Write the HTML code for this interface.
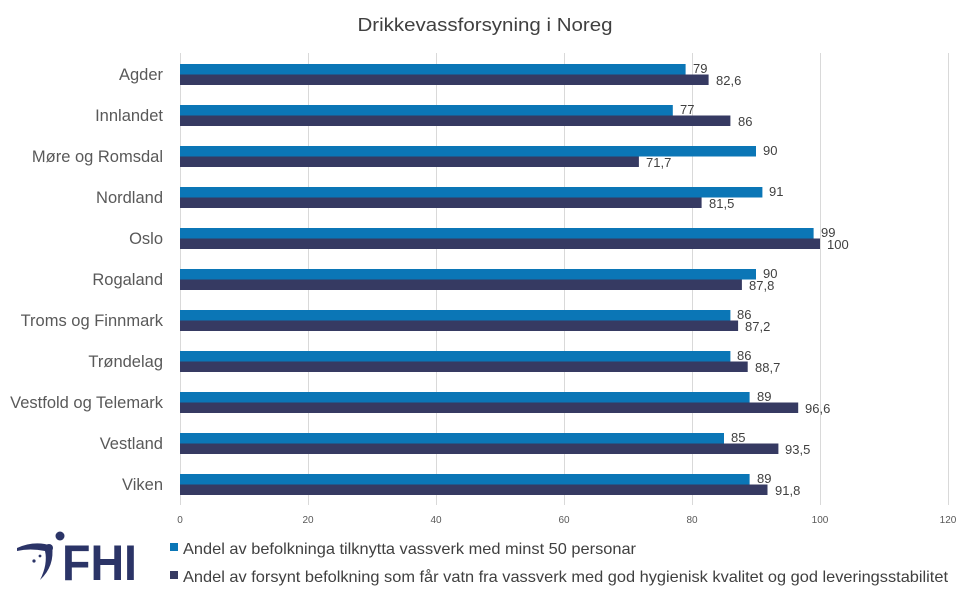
<!DOCTYPE html>
<html><head><meta charset="utf-8"><style>
html,body{margin:0;padding:0;background:#fff;}
svg{display:block;font-family:"Liberation Sans",sans-serif;}
</style></head><body>
<svg width="970" height="598" viewBox="0 0 970 598" xmlns="http://www.w3.org/2000/svg">
<rect width="970" height="598" fill="#fff"/>
<text x="485" y="31" text-anchor="middle" font-size="18" fill="#404040" textLength="255" lengthAdjust="spacingAndGlyphs">Drikkevassforsyning i Noreg</text>
<g stroke="#d9d9d9" stroke-width="1">
<line x1="180.5" y1="53" x2="180.5" y2="505"/>
<line x1="308.5" y1="53" x2="308.5" y2="505"/>
<line x1="436.5" y1="53" x2="436.5" y2="505"/>
<line x1="564.5" y1="53" x2="564.5" y2="505"/>
<line x1="692.5" y1="53" x2="692.5" y2="505"/>
<line x1="820.5" y1="53" x2="820.5" y2="505"/>
<line x1="948.5" y1="53" x2="948.5" y2="505"/>
</g>
<g font-size="10" fill="#595959" text-anchor="middle">
<text x="180" y="523">0</text><text x="308" y="523">20</text><text x="436" y="523">40</text><text x="564" y="523">60</text><text x="692" y="523">80</text><text x="820" y="523">100</text><text x="948" y="523">120</text>
</g>
<g font-size="16.5" fill="#595959" text-anchor="end">
<text x="163" y="80">Agder</text>
<text x="163" y="121">Innlandet</text>
<text x="163" y="162">Møre og Romsdal</text>
<text x="163" y="203">Nordland</text>
<text x="163" y="244">Oslo</text>
<text x="163" y="285">Rogaland</text>
<text x="163" y="326">Troms og Finnmark</text>
<text x="163" y="367">Trøndelag</text>
<text x="163" y="408">Vestfold og Telemark</text>
<text x="163" y="449">Vestland</text>
<text x="163" y="490">Viken</text>
</g>
<g fill="#0b76b6">
<rect x="180" y="64" width="505.6" height="10.5"/>
<rect x="180" y="105" width="492.8" height="10.5"/>
<rect x="180" y="146" width="576" height="10.5"/>
<rect x="180" y="187" width="582.4" height="10.5"/>
<rect x="180" y="228" width="633.6" height="10.5"/>
<rect x="180" y="269" width="576" height="10.5"/>
<rect x="180" y="310" width="550.4" height="10.5"/>
<rect x="180" y="351" width="550.4" height="10.5"/>
<rect x="180" y="392" width="569.6" height="10.5"/>
<rect x="180" y="433" width="544" height="10.5"/>
<rect x="180" y="474" width="569.6" height="10.5"/>
</g>
<g fill="#363a62">
<rect x="180" y="74.5" width="528.6" height="10.5"/>
<rect x="180" y="115.5" width="550.4" height="10.5"/>
<rect x="180" y="156.5" width="458.9" height="10.5"/>
<rect x="180" y="197.5" width="521.6" height="10.5"/>
<rect x="180" y="238.5" width="640" height="10.5"/>
<rect x="180" y="279.5" width="561.9" height="10.5"/>
<rect x="180" y="320.5" width="558.1" height="10.5"/>
<rect x="180" y="361.5" width="567.7" height="10.5"/>
<rect x="180" y="402.5" width="618.2" height="10.5"/>
<rect x="180" y="443.5" width="598.4" height="10.5"/>
<rect x="180" y="484.5" width="587.5" height="10.5"/>
</g>
<g font-size="13" fill="#404040">
<text x="693" y="73">79</text><text x="716" y="85">82,6</text>
<text x="680" y="114">77</text><text x="738" y="126">86</text>
<text x="763" y="155">90</text><text x="646" y="167">71,7</text>
<text x="769" y="196">91</text><text x="709" y="208">81,5</text>
<text x="821" y="237">99</text><text x="827" y="249">100</text>
<text x="763" y="278">90</text><text x="749" y="290">87,8</text>
<text x="737" y="319">86</text><text x="745" y="331">87,2</text>
<text x="737" y="360">86</text><text x="755" y="372">88,7</text>
<text x="757" y="401">89</text><text x="805" y="413">96,6</text>
<text x="731" y="442">85</text><text x="785" y="454">93,5</text>
<text x="757" y="483">89</text><text x="775" y="495">91,8</text>
</g>
<rect x="170" y="543" width="8" height="8" fill="#0b76b6"/>
<text x="183" y="554" font-size="16" fill="#404040" textLength="453" lengthAdjust="spacingAndGlyphs">Andel av befolkninga tilknytta vassverk med minst 50 personar</text>
<rect x="170" y="571" width="8" height="8" fill="#363a62"/>
<text x="183" y="582" font-size="16" fill="#404040" textLength="765" lengthAdjust="spacingAndGlyphs">Andel av forsynt befolkning som får vatn fra vassverk med god hygienisk kvalitet og god leveringsstabilitet</text>
<g fill="#2b3467">
<path d="M17 548 Q35 540 52 546 Q55 566 40 580 Q48 564 45 551 Q30 548 17 551 Z"/>
<circle cx="60" cy="536" r="4.5"/>
<circle cx="49" cy="548" r="4"/>
<circle cx="34" cy="561" r="1.6"/>
<circle cx="40" cy="556" r="1.4"/>
<text x="62" y="580" font-size="50" font-weight="bold" textLength="75" lengthAdjust="spacingAndGlyphs">FHI</text>
</g>
</svg>
</body></html>
